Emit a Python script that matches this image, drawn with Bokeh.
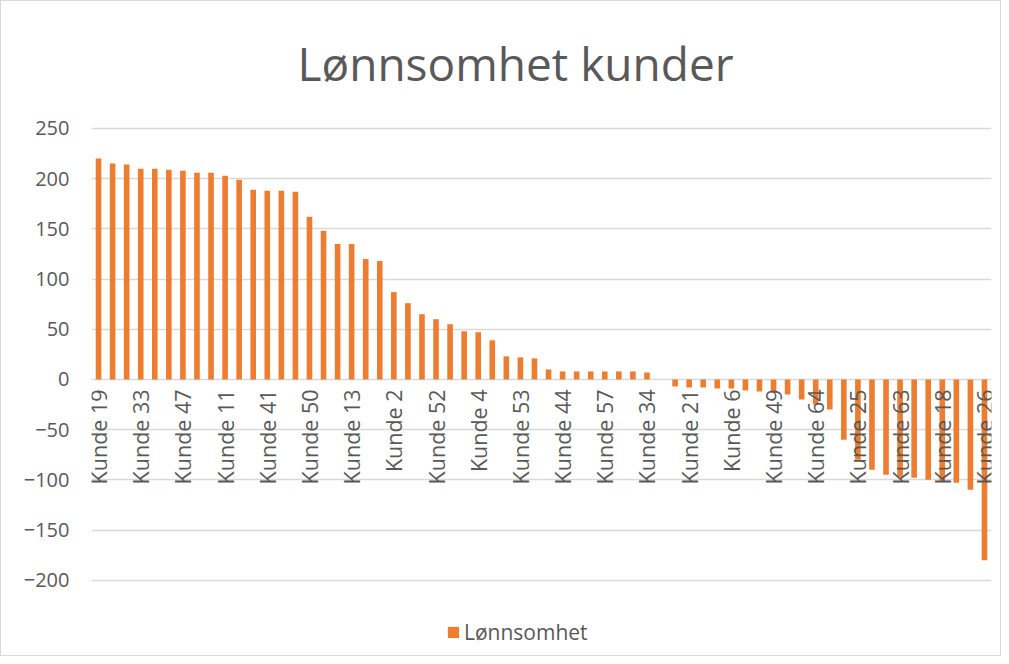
import math
from bokeh.plotting import figure
from bokeh.models import ColumnDataSource, FixedTicker, Range1d, Legend, LegendItem, Label
from bokeh.core.properties import value
from bokeh.embed import file_html
from bokeh.resources import INLINE

# Shown category labels (every third customer)
label_names = ["Kunde 19", "Kunde 33", "Kunde 47", "Kunde 11", "Kunde 41", "Kunde 50",
               "Kunde 13", "Kunde 2", "Kunde 52", "Kunde 4", "Kunde 53", "Kunde 44",
               "Kunde 57", "Kunde 34", "Kunde 21", "Kunde 6", "Kunde 49", "Kunde 64",
               "Kunde 25", "Kunde 63", "Kunde 18", "Kunde 26"]

# Profitability per customer, sorted descending (64 customers)
lonnsomhet = [220, 215, 214, 210, 210, 209, 208, 206, 206, 203, 199, 189, 188, 188, 187,
              162, 148, 135, 135, 120, 118, 87, 76, 65, 60, 55, 48, 47, 39, 23, 22, 21,
              10, 8, 8, 8, 8, 8, 8, 7, 0,
              -7, -8, -8, -9, -9, -11, -12, -13, -15, -20, -25, -30, -60, -80, -90, -95,
              -97, -98, -100, -101, -103, -110, -180]

y_ticks = [-200, -150, -100, -50, 0, 50, 100, 150, 200, 250]

n = len(lonnsomhet)
idx = list(range(n))
label_pos = list(range(0, n, 3))

FONT = "Open Sans"
GREY = "#595959"
ORANGE = "#ED7D31"
GRID = "#D9D9D9"

p = figure(width=1001, height=656, output_backend="svg", toolbar_location=None,
           x_range=Range1d(-0.5, n - 0.5), y_range=Range1d(-271, 371.5),
           min_border_left=90, min_border_right=11, min_border_top=5, min_border_bottom=6)
p.styles = {"border": "1px solid #d9d9d9"}

p.outline_line_color = None
p.xaxis.visible = False
p.xgrid.visible = False
p.ygrid.ticker = FixedTicker(ticks=y_ticks)
p.ygrid.grid_line_color = GRID
p.ygrid.grid_line_width = 1.5

yax = p.yaxis[0]
yax.ticker = FixedTicker(ticks=y_ticks)
yax.axis_line_color = None
yax.major_tick_line_color = None
yax.minor_tick_line_color = None
yax.major_tick_out = 0
yax.major_tick_in = 0
yax.major_label_standoff = 22
yax.major_label_text_font = FONT
yax.major_label_text_font_size = "20px"
yax.major_label_text_color = GREY

src = ColumnDataSource(dict(x=idx, top=lonnsomhet))
bars = p.vbar(x="x", top="top", bottom=0, width=0.4, source=src,
              fill_color=ORANGE, line_color=None)

lab_src = ColumnDataSource(dict(x=label_pos, y=[0] * len(label_pos), text=label_names))
p.text(x="x", y="y", text="text", source=lab_src, angle=math.pi / 2,
       text_align="right", text_baseline="middle", y_offset=10,
       text_font=value(FONT), text_font_size="21.5px", text_color=GREY)

title = Label(text="Lønnsomhet kunder", x=206, y=589, x_units="screen", y_units="screen",
              text_align="left", text_baseline="alphabetic",
              text_font=FONT, text_font_size="46px", text_color=GREY)
p.add_layout(title)

legend = Legend(items=[LegendItem(label="Lønnsomhet", renderers=[bars])],
                location=(355, 5), orientation="horizontal",
                padding=0, margin=0, spacing=0,
                glyph_width=14, glyph_height=14, label_standoff=4,
                label_text_font=FONT, label_text_font_size="21px", label_text_color=GREY,
                border_line_color=None, background_fill_alpha=0)
p.add_layout(legend, "center")

open("out.html", "w").write(file_html(p, INLINE))
